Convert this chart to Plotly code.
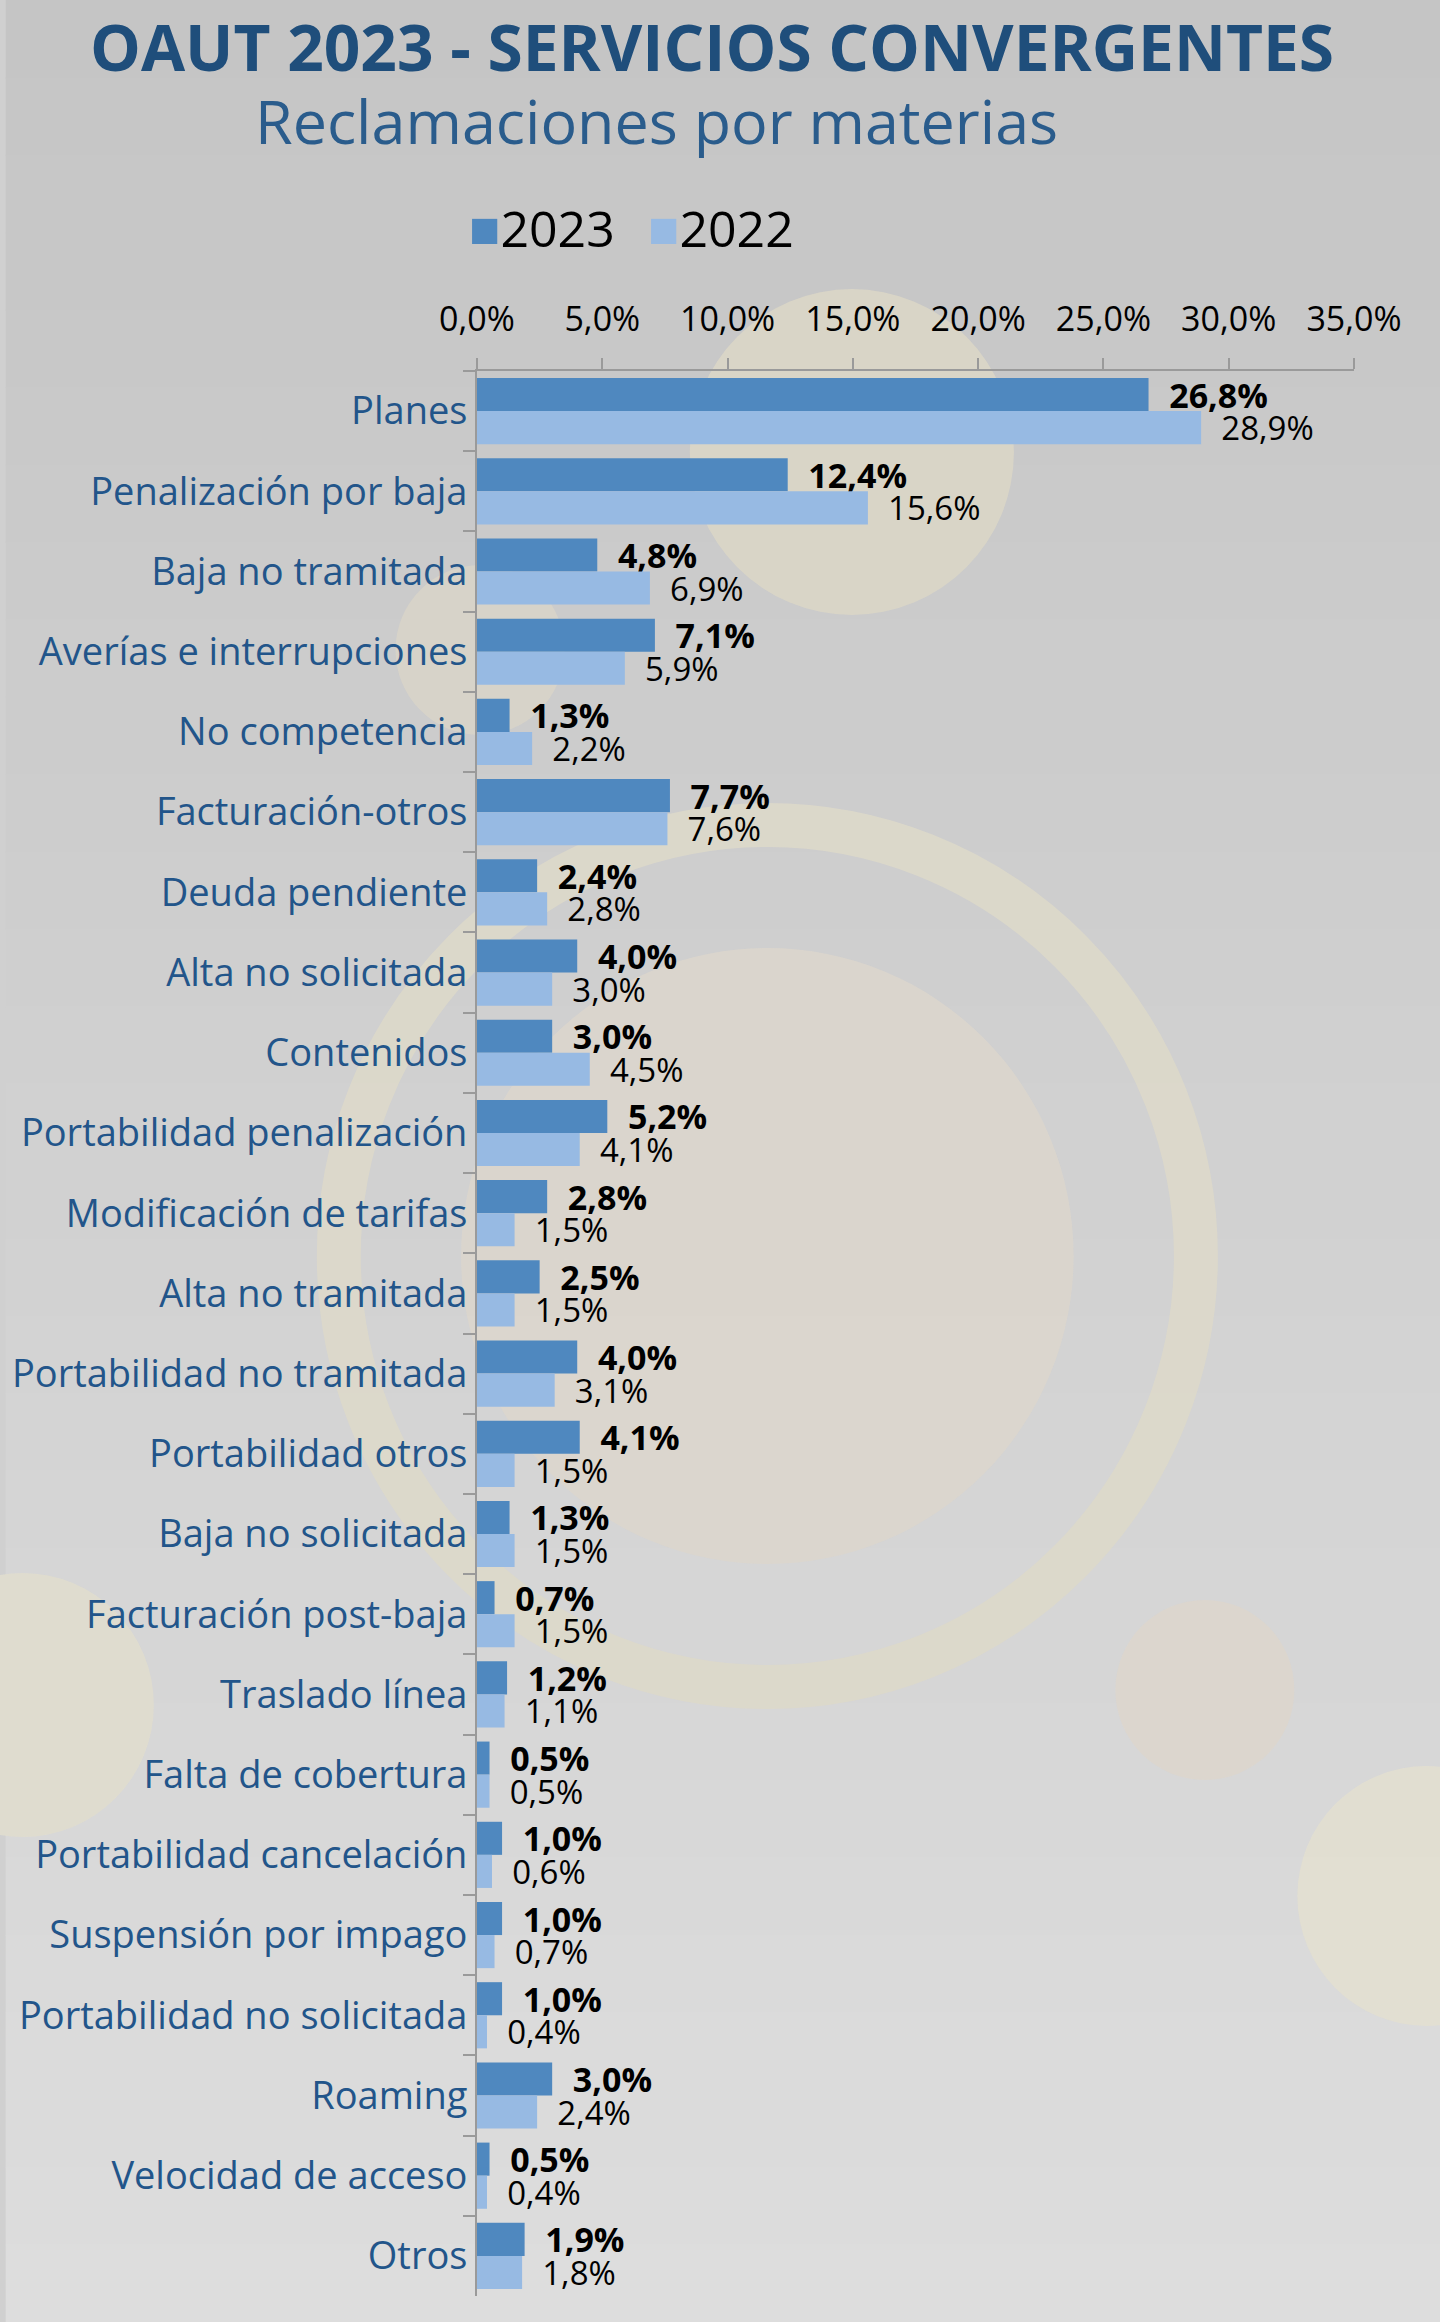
import plotly.graph_objects as go

categories = [
    "Planes", "Penalización por baja", "Baja no tramitada", "Averías e interrupciones",
    "No competencia", "Facturación-otros", "Deuda pendiente", "Alta no solicitada",
    "Contenidos", "Portabilidad penalización", "Modificación de tarifas", "Alta no tramitada",
    "Portabilidad no tramitada", "Portabilidad otros", "Baja no solicitada",
    "Facturación post-baja", "Traslado línea", "Falta de cobertura",
    "Portabilidad cancelación", "Suspensión por impago", "Portabilidad no solicitada",
    "Roaming", "Velocidad de acceso", "Otros",
]
values_2023 = [26.8, 12.4, 4.8, 7.1, 1.3, 7.7, 2.4, 4.0, 3.0, 5.2, 2.8, 2.5,
               4.0, 4.1, 1.3, 0.7, 1.2, 0.5, 1.0, 1.0, 1.0, 3.0, 0.5, 1.9]
values_2022 = [28.9, 15.6, 6.9, 5.9, 2.2, 7.6, 2.8, 3.0, 4.5, 4.1, 1.5, 1.5,
               3.1, 1.5, 1.5, 1.5, 1.1, 0.5, 0.6, 0.7, 0.4, 2.4, 0.4, 1.8]
series_names = ["2023", "2022"]
x_ticks = [0, 5, 10, 15, 20, 25, 30, 35]
x_tick_labels = ["0,0%", "5,0%", "10,0%", "15,0%", "20,0%", "25,0%", "30,0%", "35,0%"]

W, H = 1440, 2322
L, R, T, B = 472, 1354, 371, 2296  # plot area in page pixels

def px(x):
    return (x - L) / (R - L)

def py(y):
    return (B - y) / (B - T)

C23 = "#4F88BF"
C22 = "#97BAE3"
FONT = "Open Sans"
BLUE = "#22558A"

fig = go.Figure()
fig.add_trace(go.Bar(
    y=categories, x=values_2023, name=series_names[0], orientation="h",
    marker=dict(color=C23, line=dict(width=0)),
    texttemplate="\u00a0\u00a0%{x:.1f}%", textposition="outside",
    textfont=dict(family=FONT, size=34, color="black", weight="bold"),
    constraintext="none", cliponaxis=False, showlegend=False,
))
fig.add_trace(go.Bar(
    y=categories, x=values_2022, name=series_names[1], orientation="h",
    marker=dict(color=C22, line=dict(width=0)),
    texttemplate="\u00a0\u00a0%{x:.1f}%", textposition="outside",
    textfont=dict(family=FONT, size=33, color="black"),
    constraintext="none", cliponaxis=False, showlegend=False,
))

shapes = []
# gradient background bands
n = 30
top_c = (197, 197, 197)
bot_c = (221, 221, 221)
for i in range(n):
    t = i / (n - 1)
    c = tuple(int(round(top_c[k] + (bot_c[k] - top_c[k]) * t)) for k in range(3))
    y0 = H * i / n
    y1 = H * (i + 1) / n + 1
    shapes.append(dict(type="rect", xref="paper", yref="paper", layer="below",
                       x0=px(-2), x1=px(W + 2), y0=py(y1), y1=py(y0 - (2 if i == 0 else 0)),
                       fillcolor="rgb(%d,%d,%d)" % c, line=dict(width=0)))

def circle(cx, cy, r, fill=None, line_color=None, line_width=0, opacity=1.0):
    d = dict(type="circle", xref="paper", yref="paper", layer="below",
             x0=px(cx - r), x1=px(cx + r), y0=py(cy + r), y1=py(cy - r),
             opacity=opacity)
    d["fillcolor"] = fill if fill else "rgba(0,0,0,0)"
    d["line"] = dict(width=line_width, color=line_color or "rgba(0,0,0,0)")
    return d

shapes += [
    circle(849, 452, 163, fill="#DAD6C6", opacity=0.9),
    circle(475, 650, 85, fill="#DAD4C8", opacity=0.8),
    circle(764, 1256, 308, fill="#DCD6CD", opacity=0.85),
    circle(764, 1256, 431, line_color="#DEDACA", line_width=44, opacity=0.85),
    circle(1204, 1690, 90, fill="#DDD6CD", opacity=0.85),
    circle(15, 1705, 132, fill="#E0DDCE", opacity=0.9),
    circle(1427, 1896, 130, fill="#E2DFD0", opacity=0.9),
]

annotations = [
    dict(text="<b>OAUT 2023 - SERVICIOS CONVERGENTES</b>", xref="paper", yref="paper",
         x=px(708), y=py(47), xanchor="center", yanchor="middle", showarrow=False,
         font=dict(family=FONT, size=64, color="#1F4E7B")),
    dict(text="Reclamaciones por materias", xref="paper", yref="paper",
         x=px(653), y=py(121), xanchor="center", yanchor="middle", showarrow=False,
         font=dict(family=FONT, size=61, color="#2A5C8C")),
    dict(text="<span style='color:%s;font-size:52px'>■</span>%s" % (C23, series_names[0]),
         xref="paper", yref="paper", x=px(462), y=py(226), xanchor="left", yanchor="middle",
         showarrow=False, font=dict(family=FONT, size=50, color="black")),
    dict(text="<span style='color:%s;font-size:52px'>■</span>%s" % (C22, series_names[1]),
         xref="paper", yref="paper", x=px(642), y=py(226), xanchor="left", yanchor="middle",
         showarrow=False, font=dict(family=FONT, size=50, color="black")),
]

fig.update_layout(
    width=W, height=H,
    margin=dict(l=L, r=W - R, t=T, b=H - B, pad=0),
    paper_bgcolor="#D0D0D0", plot_bgcolor="rgba(0,0,0,0)",
    barmode="group", bargap=0.175, bargroupgap=0,
    separators=",.",
    shapes=shapes, annotations=annotations,
    showlegend=False,
)
fig.update_xaxes(
    side="top", range=[0, 35], tickmode="array", tickvals=x_ticks, ticktext=x_tick_labels,
    showgrid=False, zeroline=False, showline=True, linecolor="#9A9A9A", linewidth=2,
    ticks="outside", ticklen=11, tickcolor="#9A9A9A", tickwidth=2,
    tickfont=dict(family=FONT, size=34, color="black"), ticklabelstandoff=13,
)
fig.update_yaxes(
    type="category", autorange="reversed", tickson="boundaries",
    showgrid=False, zeroline=False, showline=True, linecolor="#9A9A9A", linewidth=2,
    ticks="outside", ticklen=12, tickcolor="#9A9A9A", tickwidth=2,
    tickfont=dict(family=FONT, size=38, color=BLUE),
)

fig.write_html("out.html", config={"displayModeBar": False},
               post_script="document.body.style.margin='0';document.body.style.padding='0';")
